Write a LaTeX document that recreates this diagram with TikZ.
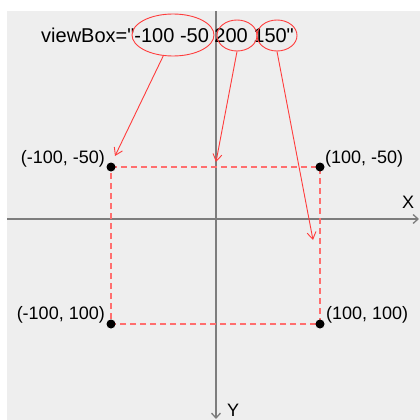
\documentclass[tikz,border=0pt]{standalone}
\usepackage{fontspec}
\setmainfont{Liberation Sans}[Ligatures=TeXOff]
\usetikzlibrary{arrows.meta,shapes.geometric}
\definecolor{panelgray}{RGB}{238,238,238}
\definecolor{axisgray}{RGB}{125,125,125}
\definecolor{markred}{RGB}{255,60,60}
\definecolor{dashred}{RGB}{255,110,110}

\begin{document}
\begin{tikzpicture}[x=1pt, y=-1pt, font=\fontsize{18}{20}\selectfont,
  axis/.style={draw=axisgray, line width=1.3pt, -{Straight Barb[length=5pt,width=9pt]}},
  ring/.style={draw=markred, ellipse, line width=0.9pt, inner sep=0pt},
  arr/.style={draw=markred, line width=0.9pt, -{Straight Barb[length=7pt,width=9pt]}},
  frame/.style={draw=dashred, line width=1.3pt, dash pattern=on 6pt off 4pt},
  dot/.style={circle, fill=black, inner sep=0pt, minimum size=9pt},
  lbl/.style={inner sep=0pt}]
\useasboundingbox (0,0) rectangle (420,420);
\fill[panelgray] (7,11) rectangle (420,420);

% axes
\coordinate (xl) at (7,219);
\coordinate (xr) at (419,219);
\coordinate (yt) at (216,11);
\coordinate (yb) at (216,419);
\draw[axis] (xl) -- (xr);
\draw[axis] (yt) -- (yb);
\node[lbl, anchor=base west] (xlab) at (402,208) {X};
\node[lbl, anchor=base west] (ylab) at (227,416) {Y};

% viewport corners
\coordinate (ctl) at (111,167);
\coordinate (ctr) at (320,167);
\coordinate (cbl) at (111,324);
\coordinate (cbr) at (320,324);
\draw[frame] (ctl) -- (ctr) -- (cbr) -- (cbl) -- cycle;
\node[dot] (tl) at (ctl) {};
\node[dot] (tr) at (ctr) {};
\node[dot] (bl) at (cbl) {};
\node[dot] (br) at (cbr) {};
\node[lbl, anchor=base east] (tllab) at (105,163) {(-100, -50)};
\node[lbl, anchor=base west] (trlab) at (325,163) {(100, -50)};
\node[lbl, anchor=base east] (bllab) at (105,319) {(-100, 100)};
\node[lbl, anchor=base west] (brlab) at (326,319) {(100, 100)};

% attribute and its parts
\node[lbl, anchor=base west, font=\fontsize{20}{22}\selectfont] (attr) at (41,42) {viewBox="-100 -50 200 150"};
\node[ring, minimum width=82pt, minimum height=42pt] (e1) at (173,35) {};
\node[ring, minimum width=40pt, minimum height=31pt] (e2) at (237,35.5) {};
\node[ring, minimum width=40pt, minimum height=31pt] (e3) at (277,35.5) {};

\coordinate (t1) at (115,156);
\coordinate (t2) at (216,162);
\coordinate (t3) at (313,240);
\draw[arr] (e1.245) -- (t1);
\draw[arr] (e2.south) -- (t2);
\draw[arr] (e3.south) -- (t3);
\end{tikzpicture}
\end{document}
